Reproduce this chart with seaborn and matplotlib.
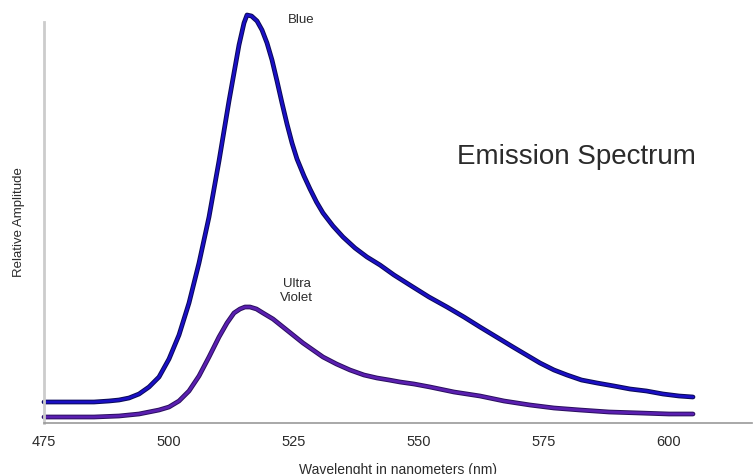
import numpy as np
import pandas as pd
import matplotlib
matplotlib.use("Agg")
import matplotlib.pyplot as plt
import matplotlib.patheffects as pe
import seaborn as sns

# datos (amplitud relativa, unidades arbitrarias)
wavelength_blue = [475, 480, 485, 488, 490, 492, 494, 496, 498, 500, 502, 504, 506, 508, 510,
                   511, 512, 513, 514, 515, 515.6, 516.5, 517.6, 518.6, 519.6, 520.6, 521.6,
                   522.6, 523.6, 524.6, 525.6, 527, 528.2, 529.5, 530.8, 532.8, 534.8, 537.2,
                   539.6, 542.2, 545, 548.8, 552, 555.6, 559, 562.2, 565.5, 568.8, 571.5, 574.2,
                   577, 579.6, 582.5, 585.6, 589, 592.2, 595.5, 598.8, 602, 604.8]
amp_blue = [21, 21, 21, 22, 23, 25, 29, 36, 46, 64, 88, 120, 160, 206, 262,
            292, 322, 350, 378, 400, 408, 407, 402, 393, 380, 363, 342,
            320, 299, 280, 264, 247, 234, 221, 210, 197, 186, 175,
            166, 158, 148, 136, 126, 116, 106, 96, 86, 76, 68, 60,
            53, 48, 43, 40, 37, 34, 32, 29, 27, 26]

wavelength_uv = [475, 480, 485, 490, 494, 496, 498, 500, 502, 504, 506, 508, 510, 511.6,
                 513, 514.2, 515.2, 516.2, 517.5, 518.8, 520.8, 522.8, 524.8, 526.8, 528.8,
                 530.8, 533.5, 536.2, 539, 541.6, 544, 546.2, 549, 552.2, 557, 562.2,
                 567, 572.2, 577, 582.2, 588, 594.2, 600, 604.8]
amp_uv = [6, 6, 6, 7, 9, 11, 13, 16, 22, 32, 47, 66, 86, 100,
          110, 114, 116, 116, 114, 110, 104, 96, 88, 80, 73,
          66, 59, 53, 48, 45, 43, 41, 39, 36, 31, 27,
          22, 18, 15, 13, 11, 10, 9, 9]

x_ticks = [475, 500, 525, 550, 575, 600]

df_blue = pd.DataFrame({"nm": wavelength_blue, "amp": amp_blue})
df_uv = pd.DataFrame({"nm": wavelength_uv, "amp": amp_uv})

sns.set_style("white")
plt.rcParams["font.family"] = ["Liberation Sans", "DejaVu Sans"]

fig = plt.figure(figsize=(7.53, 4.74), dpi=100)
ax = fig.add_axes([44 / 753, 1 - 423 / 474, 708 / 753, 401 / 474])

borde_azul = [pe.Stroke(linewidth=3.4, foreground="#0a0a55"), pe.Normal()]
borde_uv = [pe.Stroke(linewidth=3.4, foreground="#2a0f5e"), pe.Normal()]

sns.lineplot(data=df_blue, x="nm", y="amp", ax=ax, color="#1a0fc4", linewidth=2.0,
             path_effects=borde_azul, clip_on=False)
sns.lineplot(data=df_uv, x="nm", y="amp", ax=ax, color="#5a1fb0", linewidth=2.0,
             path_effects=borde_uv, clip_on=False)

ax.set_xlim(475, 616.6)
ax.set_ylim(0, 401)
ax.set_xticks(x_ticks)
ax.set_xticklabels([str(t) for t in x_ticks], fontsize=10.5, color="#2b2b2b")
ax.set_yticks([])
ax.tick_params(axis="x", length=0, pad=9)

for lado in ["top", "right"]:
    ax.spines[lado].set_visible(False)
ax.spines["left"].set_color("#cccccc")
ax.spines["left"].set_linewidth(2)
ax.spines["bottom"].set_color("#999999")
ax.spines["bottom"].set_linewidth(1.2)

ax.set_xlabel("Wavelenght in nanometers (nm)", fontsize=10, color="#2b2b2b", labelpad=10)
ax.set_ylabel("Relative Amplitude", fontsize=9.5, color="#2b2b2b", labelpad=14)

ax.text(526.5, 403, "Blue", fontsize=9.5, color="#2b2b2b", ha="center", va="center")
ax.text(525.5, 132, "Ultra\nViolet", fontsize=9.5, color="#2b2b2b", ha="center", va="center",
        linespacing=1.2)
ax.text(581.4, 266, "Emission Spectrum", fontsize=20, color="#2b2b2b", ha="center", va="center")

plt.savefig("out.png", dpi=100)
